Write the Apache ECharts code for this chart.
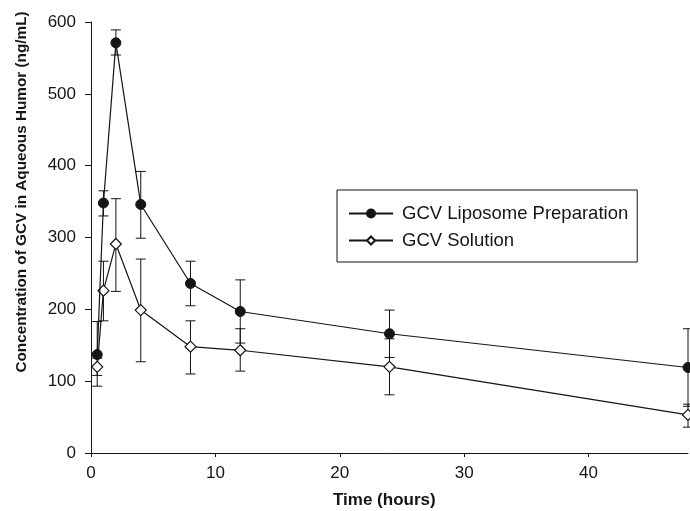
<!DOCTYPE html>
<html>
<head>
<meta charset="utf-8">
<script src="https://cdn.jsdelivr.net/npm/echarts@6/dist/echarts.min.js"></script>
<style>html,body{margin:0;padding:0;background:#fff}#c{width:690px;height:511px}</style>
</head>
<body>
<div id="c"></div>
<script>
const times = [0.5, 1, 2, 4, 8, 12, 24, 48];
const liposomeMean = [137, 348, 571, 346, 236, 197, 166, 119];
const liposomeLow  = [93, 330, 554, 299, 205, 153, 133, 65];
const liposomeHigh = [183, 365, 589, 392, 267, 241, 199, 173];
const solutionMean = [120, 226, 291, 199, 148, 143, 120, 53];
const solutionLow  = [108, 184, 225, 127, 110, 114, 81, 36];
const solutionHigh = [132, 267, 354, 270, 184, 173, 159, 68];
const xTicks = [0, 10, 20, 30, 40];
const seriesNames = ['GCV Liposome Preparation', 'GCV Solution'];
const xTitle = 'Time (hours)';
const yTitle = 'Concentration of GCV in Aqueous Humor (ng/mL)';

const FONT = "'Liberation Sans', Arial, sans-serif";
const INK = '#151515';

function pairs(xs, ys) { return xs.map((x, i) => [x, ys[i]]); }
function triples(xs, lo, hi) { return xs.map((x, i) => [x, lo[i], hi[i]]); }

function errRender(params, api) {
  const x = api.value(0), lo = api.value(1), hi = api.value(2);
  const a = api.coord([x, lo]);
  const b = api.coord([x, hi]);
  const w = 5;
  const st = { stroke: INK, lineWidth: 1 };
  return {
    type: 'group',
    children: [
      { type: 'line', shape: { x1: a[0], y1: a[1], x2: b[0], y2: b[1] }, style: st },
      { type: 'line', shape: { x1: a[0] - w, y1: a[1], x2: a[0] + w, y2: a[1] }, style: st },
      { type: 'line', shape: { x1: b[0] - w, y1: b[1], x2: b[0] + w, y2: b[1] }, style: st }
    ]
  };
}

const chart = echarts.init(document.getElementById('c'), null, { renderer: 'canvas' });
chart.setOption({
  animation: false,
  backgroundColor: '#fff',
  textStyle: { fontFamily: FONT, color: INK },
  grid: { left: 91, right: 2, top: 22, bottom: 58 },
  legend: {
    data: seriesNames,
    orient: 'vertical',
    left: 337,
    top: 190,
    padding: [14, 9, 12, 11],
    itemGap: 8,
    itemWidth: 44,
    itemHeight: 10,
    borderColor: INK,
    borderWidth: 1,
    textStyle: { fontSize: 18.5, fontFamily: FONT, color: INK, padding: [0, 0, 0, 4] }
  },
  xAxis: {
    type: 'value',
    min: 0, max: 48, interval: 10,
    axisLine: { show: true, lineStyle: { color: INK, width: 1 } },
    axisTick: { show: true, length: 4, lineStyle: { color: INK }, customValues: xTicks },
    axisLabel: { fontSize: 17, color: INK, fontFamily: FONT, margin: 12, customValues: xTicks },
    splitLine: { show: false }
  },
  yAxis: {
    type: 'value',
    min: 0, max: 600, interval: 100,
    axisLine: { show: true, lineStyle: { color: INK, width: 1 } },
    axisTick: { show: true, length: 6, lineStyle: { color: INK } },
    axisLabel: { fontSize: 17, color: INK, fontFamily: FONT, margin: 15 },
    splitLine: { show: false }
  },
  graphic: [
    {
      type: 'text', left: 333, top: 492,
      style: { text: xTitle, font: "bold 17px 'Liberation Sans', Arial, sans-serif", fill: INK }
    },
    {
      type: 'text', x: 22, y: 192, rotation: Math.PI / 2,
      style: { text: yTitle, font: "bold 15.3px 'Liberation Sans', Arial, sans-serif", fill: INK,
               align: 'center', verticalAlign: 'middle' }
    }
  ],
  series: [
    {
      type: 'custom', name: 'liposomeErr', z: 1, clip: false,
      renderItem: errRender,
      encode: { x: 0, y: [1, 2] },
      data: triples(times, liposomeLow, liposomeHigh),
      silent: true
    },
    {
      type: 'custom', name: 'solutionErr', z: 1, clip: false,
      renderItem: errRender,
      encode: { x: 0, y: [1, 2] },
      data: triples(times, solutionLow, solutionHigh),
      silent: true
    },
    {
      type: 'line', name: seriesNames[0], z: 3, clip: false,
      data: pairs(times, liposomeMean),
      symbol: 'circle', symbolSize: 10,
      lineStyle: { color: INK, width: 1.2 },
      itemStyle: { color: INK, borderColor: INK, borderWidth: 1 }
    },
    {
      type: 'line', name: seriesNames[1], z: 2, clip: false,
      data: pairs(times, solutionMean),
      symbol: 'diamond', symbolSize: 11,
      lineStyle: { color: INK, width: 1.2 },
      itemStyle: { color: '#fff', borderColor: INK, borderWidth: 1.2 }
    }
  ]
});
</script>
</body>
</html>
